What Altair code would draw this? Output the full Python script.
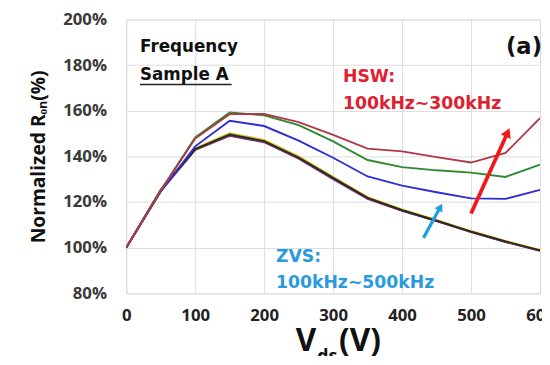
import altair as alt
import pandas as pd

# ---- data ----
vds = [0, 50, 100, 150, 200, 250, 300, 350, 400, 450, 500, 550, 600]

hsw_red   = [100, 125, 147.8, 158.5, 158.6, 155.0, 149.4, 143.4, 142.2, 139.7, 137.3, 141.5, 156.8]
hsw_green = [100, 125, 148.3, 159.2, 158.0, 153.7, 146.6, 138.4, 135.3, 133.9, 132.9, 131.0, 136.4]
hsw_blue  = [100, 124.5, 144.4, 155.6, 153.3, 146.9, 139.4, 131.2, 127.2, 124.3, 121.6, 121.4, 125.3]

zvs_yellow = [100, 125.5, 143.6, 150.2, 147.2, 140.0, 131.0, 122.2, 116.8, 112.2, 107.3, 103.0, 99.0]
zvs_black  = [100, 125.2, 143.2, 149.6, 146.7, 139.5, 130.6, 121.8, 116.4, 111.8, 107.0, 102.7, 98.8]
zvs_purple = [100, 124.8, 142.8, 149.0, 146.2, 139.0, 130.0, 121.4, 116.1, 111.6, 106.8, 102.5, 98.6]
zvs_brown  = [100, 125.0, 143.0, 149.3, 146.5, 139.3, 130.4, 121.6, 116.3, 111.7, 106.9, 102.6, 98.7]

series_names  = ["zvs_yellow", "zvs_purple", "zvs_brown", "zvs_black", "hsw_blue", "hsw_green", "hsw_red"]
series_values = [zvs_yellow, zvs_purple, zvs_brown, zvs_black, hsw_blue, hsw_green, hsw_red]
series_colors = ["#d8c81a", "#6a2fb0", "#8a3a20", "#2a2a2a", "#2d2dd8", "#2f8a2f", "#b03848"]

y_ticks = [80, 100, 120, 140, 160, 180, 200]
x_ticks = [0, 100, 200, 300, 400, 500, 600]

# arrows (start x, start y, end x, end y) in data units
red_arrow  = [500, 115.0, 553, 150.5]
blue_arrow = [431, 104.3, 455.5, 117.8]

rows = []
for name, vals in zip(series_names, series_values):
    for i, (x, v) in enumerate(zip(vds, vals)):
        rows.append({"Vds": x, "Ron": v, "series": name, "order": i})
df = pd.DataFrame(rows)

FONT = "Open Sans"
AFONT = "DejaVu Sans"

xscale = alt.Scale(domain=[0, 600], nice=False, zero=False)
yscale = alt.Scale(domain=[80, 200], nice=False, zero=False)

lines = alt.Chart(df).mark_line(strokeWidth=1.9, clip=True).encode(
    x=alt.X("Vds:Q", scale=xscale,
            axis=alt.Axis(values=x_ticks, title=None, labelFont=FONT, labelFontWeight="bold",
                          labelFontSize=17, labelColor="#222", labelPadding=15,
                          ticks=False, domain=False, grid=True, gridColor="#dcdcdc",
                          labelOverlap=False, labelFlush=False)),
    y=alt.Y("Ron:Q", scale=yscale,
            axis=alt.Axis(values=y_ticks, labelExpr="datum.value + '%'",
                          title="Normalized Rₒₙ(%)", titleFont=FONT, titleFontSize=19.5,
                          titleFontWeight="bold", titleColor="#111", titlePadding=14,
                          labelFont=FONT, labelFontWeight="bold", labelFontSize=17,
                          labelColor="#3a3a3a", labelPadding=20, ticks=False, domain=False,
                          grid=True, gridColor="#dcdcdc")),
    color=alt.Color("series:N", scale=alt.Scale(domain=series_names, range=series_colors), legend=None),
    detail="series:N",
    order="order:Q",
)

def arrow(a, color, width, size, angle):
    d = pd.DataFrame({"x": [a[0]], "y": [a[1]], "x2": [a[2]], "y2": [a[3]]})
    shaft = alt.Chart(d).mark_rule(strokeWidth=width, color=color).encode(
        x=alt.X("x:Q", scale=xscale), y=alt.Y("y:Q", scale=yscale), x2="x2:Q", y2="y2:Q")
    head = alt.Chart(d).mark_point(shape="triangle-up", filled=True, size=size, angle=angle,
                                   opacity=1, color=color).encode(
        x=alt.X("x2:Q", scale=xscale), y=alt.Y("y2:Q", scale=yscale))
    return [shaft, head]

def txt(s, x, y, size, color="#111", align="left", font=AFONT, baseline="alphabetic"):
    return alt.Chart(pd.DataFrame({"t": [s]})).mark_text(
        align=align, baseline=baseline, font=font, fontSize=size, fontWeight="bold", color=color
    ).encode(text="t:N", x=alt.value(x), y=alt.value(y))

texts = [
    txt("Frequency", 14, 33, 17),
    txt("Sample A", 14, 61, 17),
    txt("(a)", 422, 35, 23, align="right"),
    txt("HSW:", 220, 63, 17.5, color="#e02030"),
    txt("100kHz~300kHz", 220, 91, 17.5, color="#e02030"),
    txt("ZVS:", 152, 246, 17.5, color="#2a9ae0"),
    txt("100kHz~500kHz", 152, 273, 17.5, color="#2a9ae0"),
    # x-axis title with subscript
    txt("V", 172, 337, 32, font=FONT),
    txt("ds", 194, 348, 18, font=FONT),
    txt("(V)", 216, 337, 32, font=FONT),
]

underline = alt.Chart(pd.DataFrame({"a": [0]})).mark_rule(color="#222", strokeWidth=1.6).encode(
    x=alt.value(14), x2=alt.value(107), y=alt.value(66)
)

chart = alt.layer(
    lines,
    *arrow(red_arrow, "#f01818", 3.8, 120, 24),
    *arrow(blue_arrow, "#1e9ee0", 3.2, 80, 29),
    underline, *texts
).properties(
    width=420, height=278,
    autosize=alt.AutoSizeParams(type="none"),
    padding={"left": 120, "top": 9, "right": 2, "bottom": 61},
).configure_view(stroke="#8a8a8a", strokeWidth=2).configure(background="white")

chart.save("out.html", embed_options={"renderer": "svg", "actions": False})
